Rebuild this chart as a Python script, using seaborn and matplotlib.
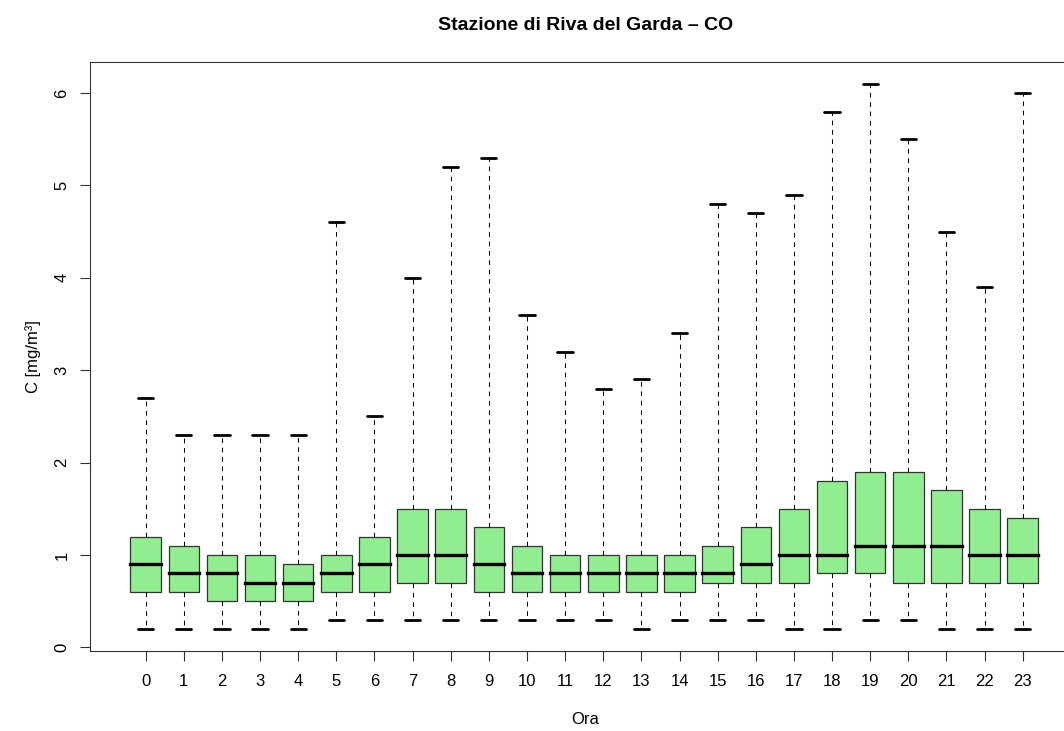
import numpy as np
import pandas as pd
import matplotlib
matplotlib.use("Agg")
import matplotlib.pyplot as plt
import seaborn as sns

# ---- data ----
hours = [str(h) for h in range(24)]
low = [0.2, 0.2, 0.2, 0.2, 0.2, 0.3, 0.3, 0.3, 0.3, 0.3, 0.3, 0.3,
       0.3, 0.2, 0.3, 0.3, 0.3, 0.2, 0.2, 0.3, 0.3, 0.2, 0.2, 0.2]
q1 = [0.6, 0.6, 0.5, 0.5, 0.5, 0.6, 0.6, 0.7, 0.7, 0.6, 0.6, 0.6,
      0.6, 0.6, 0.6, 0.7, 0.7, 0.7, 0.8, 0.8, 0.7, 0.7, 0.7, 0.7]
median = [0.9, 0.8, 0.8, 0.7, 0.7, 0.8, 0.9, 1.0, 1.0, 0.9, 0.8, 0.8,
          0.8, 0.8, 0.8, 0.8, 0.9, 1.0, 1.0, 1.1, 1.1, 1.1, 1.0, 1.0]
q3 = [1.2, 1.1, 1.0, 1.0, 0.9, 1.0, 1.2, 1.5, 1.5, 1.3, 1.1, 1.0,
      1.0, 1.0, 1.0, 1.1, 1.3, 1.5, 1.8, 1.9, 1.9, 1.7, 1.5, 1.4]
high = [2.7, 2.3, 2.3, 2.3, 2.3, 4.6, 2.5, 4.0, 5.2, 5.3, 3.6, 3.2,
        2.8, 2.9, 3.4, 4.8, 4.7, 4.9, 5.8, 6.1, 5.5, 4.5, 3.9, 6.0]
yticks = [0, 1, 2, 3, 4, 5, 6]

title = "Stazione di Riva del Garda \u2013 CO"
xlabel = "Ora"
ylabel = "C [mg/m\u00b3]"

# five-number summaries as samples (quartiles reproduce exactly)
rows = []
for h, a, b, c, d, e in zip(hours, low, q1, median, q3, high):
    for v in (a, b, c, d, e):
        rows.append({"Ora": h, "C": v})
df = pd.DataFrame(rows)

sns.set_style("ticks")
plt.rcParams["font.family"] = ["Liberation Sans", "DejaVu Sans"]
plt.rcParams["text.color"] = "black"
plt.rcParams["axes.labelcolor"] = "black"

FS = 12
W, H = 1064, 731
fig = plt.figure(figsize=(W / 100, H / 100), dpi=100)
L, R, T, B = 90, 1081, 62, 650.7
ax = fig.add_axes([L / W, 1 - B / H, (R - L) / W, (B - T) / H])

sns.boxplot(
    data=df, x="Ora", y="C", order=hours, ax=ax,
    color="#90EE90", saturation=1, width=0.8, whis=(0, 100),
    linecolor="black", linewidth=0.9, showfliers=False,
    whiskerprops={"linestyle": (0, (4.5, 4.5)), "linewidth": 0.75, "color": "black"},
    capprops={"linewidth": 2.0, "color": "black"},
    medianprops={"linewidth": 2.4, "color": "black", "solid_capstyle": "projecting"},
    boxprops={"edgecolor": "#333333", "linewidth": 0.9},
)

ax.set_xlim(-1.461, 24.53)
ax.set_ylim(-0.036, 6.336)
ax.set_yticks(yticks)
ax.set_yticklabels([str(t) for t in yticks], rotation=90, va="center")
ax.set_xlabel("")
ax.set_ylabel("")
ax.tick_params(axis="both", direction="out", length=7.2, width=0.8,
               labelsize=FS, color="#333333", labelcolor="black")
ax.tick_params(axis="x", pad=9.8)
ax.tick_params(axis="y", pad=7.5)
for s in ax.spines.values():
    s.set_visible(True)
    s.set_color("#333333")
    s.set_linewidth(0.8)

fig.text(585.5 / W, 1 - 30.5 / H, title, ha="center", va="baseline",
         fontsize=14, fontweight="bold")
fig.text(585.5 / W, 1 - 724 / H, xlabel, ha="center", va="baseline", fontsize=FS)
fig.text(33 / W, 1 - 357 / H, ylabel, ha="center", va="center",
         fontsize=FS, rotation=90)

fig.savefig("out.png", dpi=100)
